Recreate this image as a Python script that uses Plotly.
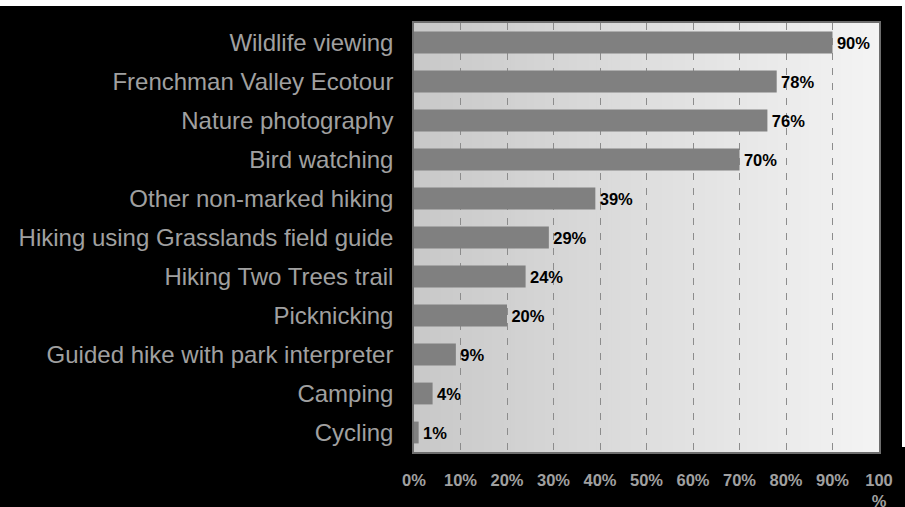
import plotly.graph_objects as go

# Share of visitors taking part in each activity (%)
activities = [
    "Wildlife viewing",
    "Frenchman Valley Ecotour",
    "Nature photography",
    "Bird watching",
    "Other non-marked hiking",
    "Hiking using Grasslands field guide",
    "Hiking Two Trees trail",
    "Picknicking",
    "Guided hike with park interpreter",
    "Camping",
    "Cycling",
]
shares = [90, 78, 76, 70, 39, 29, 24, 20, 9, 4, 1]

tick_values = [0, 10, 20, 30, 40, 50, 60, 70, 80, 90, 100]
tick_labels = ["0%", "10%", "20%", "30%", "40%", "50%", "60%", "70%", "80%", "90%", "100<br>%"]

FONT = "Liberation Sans, Arial, sans-serif"

fig = go.Figure()

fig.add_trace(go.Bar(
    x=shares,
    y=activities,
    orientation="h",
    width=0.56,
    marker=dict(color="#808080", line=dict(width=0)),
    text=[f"\u200a{v}%" for v in shares],
    textposition="outside",
    constraintext="none",
    cliponaxis=False,
    textfont=dict(family=FONT, size=16.5, color="#000000", weight="bold"),
    hoverinfo="skip",
))

# Horizontal grey gradient behind the plotting area
shapes = []
n_strips = 120
c_left, c_right = 200, 244
for i in range(n_strips):
    t = (i + 0.5) / n_strips
    c = round(c_left + (c_right - c_left) * t)
    shapes.append(dict(
        type="rect", xref="paper", yref="paper",
        x0=i / n_strips, x1=(i + 1) / n_strips + 0.002, y0=0, y1=1,
        fillcolor=f"rgb({c},{c},{c})", line=dict(width=0), layer="below",
    ))

# Thin white frame along the top and right edges of the canvas
W, H = 905, 507
L, R, T, B = 414, 879, 23, 452
def px(x):
    return (x - L) / (R - L)
def py(y):
    return (B - y) / (B - T)
shapes.append(dict(type="rect", xref="paper", yref="paper",
                   x0=px(0), x1=px(902), y0=py(6), y1=py(0),
                   fillcolor="#ffffff", line=dict(width=0), layer="above"))
shapes.append(dict(type="rect", xref="paper", yref="paper",
                   x0=px(902), x1=px(905), y0=py(447), y1=py(0),
                   fillcolor="#ffffff", line=dict(width=0), layer="above"))

fig.update_layout(
    width=W, height=H,
    margin=dict(l=L, r=W - R, t=T, b=H - B, pad=0, autoexpand=False),
    paper_bgcolor="#000000",
    plot_bgcolor="rgba(0,0,0,0)",
    showlegend=False,
    bargap=0.44,
    shapes=shapes,
    font=dict(family=FONT),
)

fig.update_xaxes(
    automargin=False,
    range=[0, 100],
    tickvals=tick_values,
    ticktext=tick_labels,
    tickfont=dict(family=FONT, size=16.5, color="#a0a0a0", weight="bold"),
    ticks="",
    ticklabelstandoff=12,
    showgrid=True,
    gridcolor="#8c8c8c",
    gridwidth=1,
    griddash="7px,8px",
    zeroline=False,
    showline=True,
    linecolor="#6e6e6e",
    linewidth=1.5,
    mirror=True,
    fixedrange=True,
)

fig.update_yaxes(
    automargin=False,
    autorange="reversed",
    tickfont=dict(family=FONT, size=24, color="#a0a0a0"),
    ticks="",
    ticklabelstandoff=14,
    showgrid=False,
    zeroline=False,
    showline=True,
    linecolor="#6e6e6e",
    linewidth=1.5,
    mirror=True,
    fixedrange=True,
)

fig.write_html("out.html")
